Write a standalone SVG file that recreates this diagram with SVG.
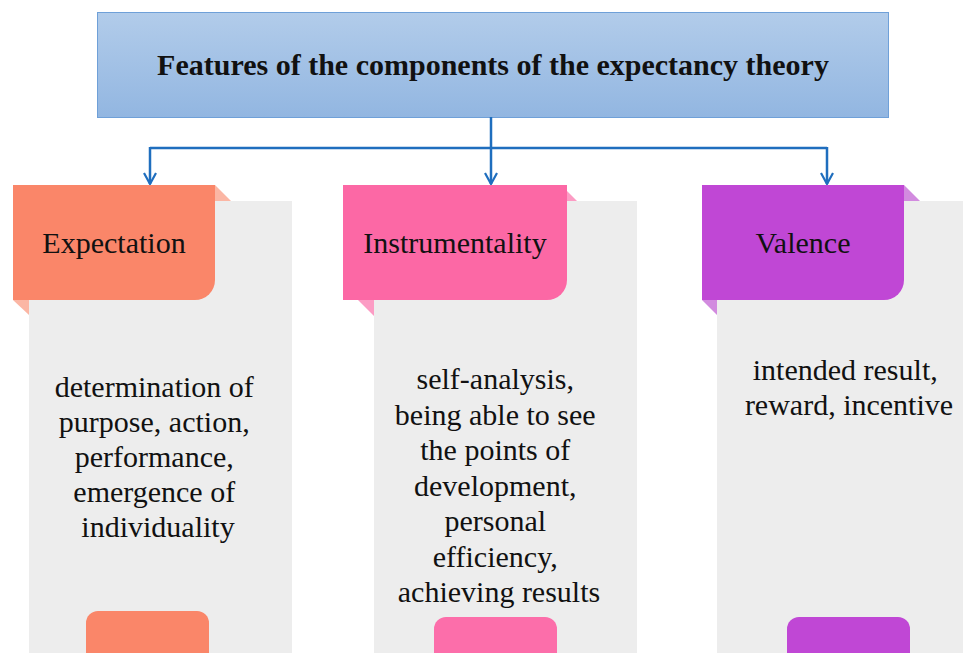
<svg xmlns="http://www.w3.org/2000/svg" width="963" height="653" viewBox="0 0 963 653">
  <defs>
    <linearGradient id="titleFill" x1="0" y1="0" x2="0" y2="1">
      <stop offset="0" stop-color="#B2CCEA"/>
      <stop offset="1" stop-color="#92B6E1"/>
    </linearGradient>
    <marker id="arrow" viewBox="0 0 14 14" refX="12" refY="7" markerWidth="14" markerHeight="14" markerUnits="userSpaceOnUse" orient="auto">
      <path d="M1,1 L12,7 L1,13" fill="none" stroke="#1F6EBE" stroke-width="2.2"/>
    </marker>
  </defs>
  <style>
    .panel { fill: #EDEDED; }
    .lbl { font-family: "Liberation Serif", "Times New Roman", serif; font-size: 30px; fill: #111; text-anchor: middle; }
    .body { font-family: "Liberation Serif", "Times New Roman", serif; font-size: 30px; fill: #111; text-anchor: middle; }
    .conn { fill: none; stroke: #1F6EBE; stroke-width: 2.5; }
  </style>
  <rect width="963" height="653" fill="#FFFFFF"/>

  <g id="title">
    <rect x="97.5" y="12.5" width="791" height="105" fill="url(#titleFill)" stroke="#6FA0D8" stroke-width="1"/>
    <text x="493" y="75" font-family="Liberation Serif, Times New Roman, serif" font-size="30" font-weight="bold" text-anchor="middle" fill="#111">Features of the components of the expectancy theory</text>
  </g>

  <g id="connectors">
    <path class="conn" d="M491,117 V148"/>
    <path class="conn" d="M150,148 H827"/>
    <path class="conn" d="M150,147 V184" marker-end="url(#arrow)"/>
    <path class="conn" d="M491,148 V184" marker-end="url(#arrow)"/>
    <path class="conn" d="M827,147 V184" marker-end="url(#arrow)"/>
  </g>

  <g id="expectation">
    <rect class="panel" x="29" y="201" width="263" height="452"/>
    <polygon points="215,185 231,201 215,201" fill="#FBB6A4"/>
    <polygon points="13,300 29,300 29,315" fill="#FBB6A4"/>
    <path d="M13,185 H215 V280 A20,20 0 0 1 195,300 H13 Z" fill="#FA8669"/>
    <text class="lbl" x="114" y="253">Expectation</text>
    <text class="body">
      <tspan x="158" y="397">determination of</tspan>
      <tspan x="158" y="432">purpose, action,</tspan>
      <tspan x="158" y="467">performance,</tspan>
      <tspan x="158" y="502">emergence of</tspan>
      <tspan x="158" y="537">individuality</tspan>
    </text>
    <path d="M86,653 V623 A12,12 0 0 1 98,611 H197 A12,12 0 0 1 209,623 V653 Z" fill="#FA8669"/>
  </g>

  <g id="instrumentality">
    <rect class="panel" x="374" y="201" width="263" height="452"/>
    <polygon points="567,191 577,201 567,201" fill="#FC9CC4"/>
    <polygon points="358,300 374,300 374,316" fill="#FC9CC4"/>
    <path d="M343,185 H567 V280 A20,20 0 0 1 547,300 H343 Z" fill="#FC68A5"/>
    <text class="lbl" x="455" y="253">Instrumentality</text>
    <text class="body">
      <tspan x="499" y="389">self-analysis,</tspan>
      <tspan x="499" y="424.5">being able to see</tspan>
      <tspan x="499" y="460">the points of</tspan>
      <tspan x="499" y="495.5">development,</tspan>
      <tspan x="499" y="531">personal</tspan>
      <tspan x="499" y="566.5">efficiency,</tspan>
      <tspan x="499" y="602">achieving results</tspan>
    </text>
    <path d="M434,653 V629 A12,12 0 0 1 446,617 H545 A12,12 0 0 1 557,629 V653 Z" fill="#FC6EAA"/>
  </g>

  <g id="valence">
    <rect class="panel" x="717" y="201" width="246" height="452"/>
    <polygon points="904,185 920,201 904,201" fill="#D28BDF"/>
    <polygon points="702,300 717,300 717,315" fill="#D28BDF"/>
    <path d="M702,185 H904 V280 A20,20 0 0 1 884,300 H702 Z" fill="#C047D5"/>
    <text class="lbl" x="803" y="253">Valence</text>
    <text class="body">
      <tspan x="849" y="380">intended result,</tspan>
      <tspan x="849" y="415">reward, incentive</tspan>
    </text>
    <path d="M787,653 V629 A12,12 0 0 1 799,617 H898 A12,12 0 0 1 910,629 V653 Z" fill="#C047D5"/>
  </g>
</svg>
